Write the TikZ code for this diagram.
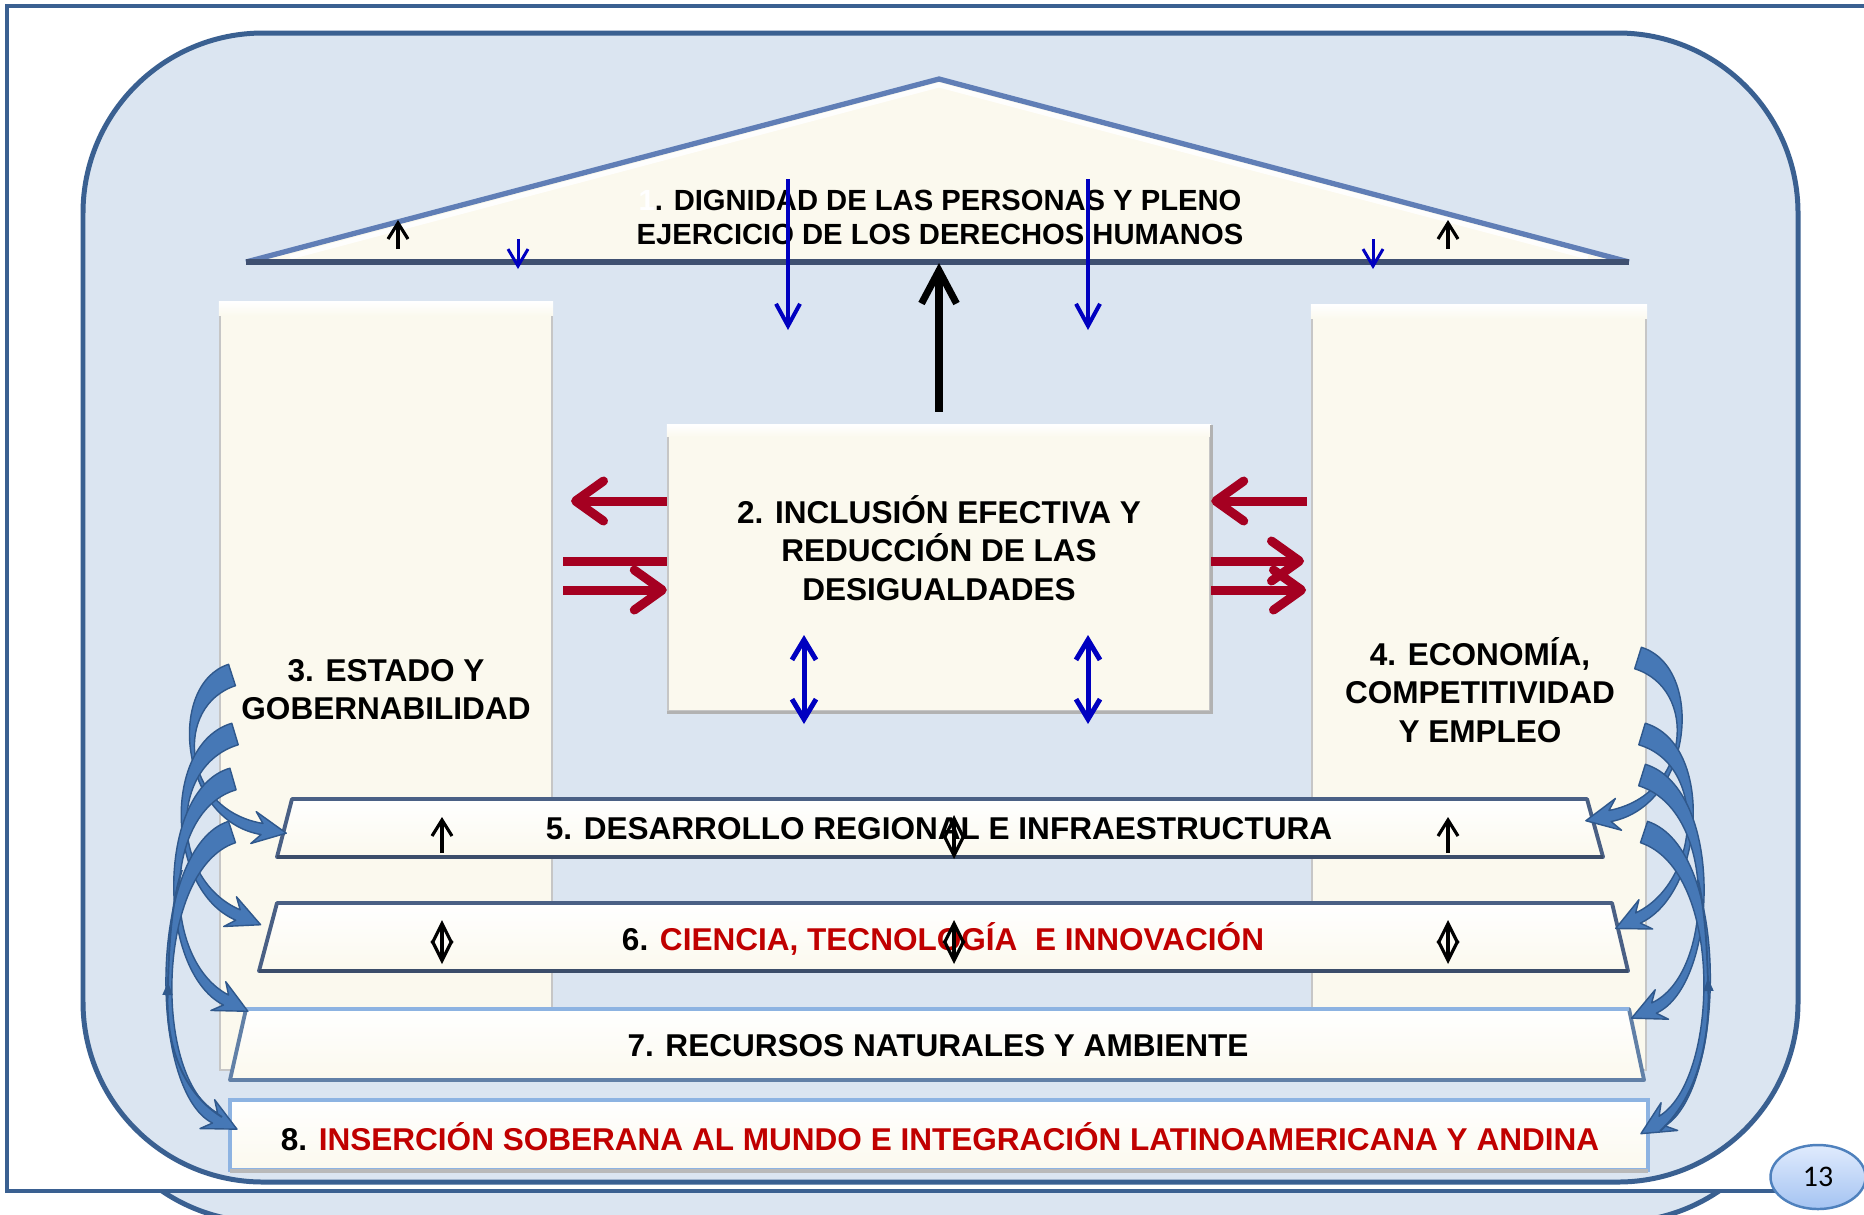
\documentclass[tikz,border=0pt]{standalone}
\usepackage{fontspec}
\setmainfont{Liberation Sans}
\newfontfamily\pagefont{Carlito}
\usetikzlibrary{arrows.meta,calc,shapes.geometric}

\definecolor{bgblue}{RGB}{219,229,241}
\definecolor{frameblue}{RGB}{58,96,145}
\definecolor{cream}{RGB}{251,249,238}
\definecolor{arrowblue}{RGB}{0,0,192}
\definecolor{crimson}{RGB}{165,0,33}
\definecolor{txtred}{RGB}{192,0,0}
\definecolor{curveblue}{RGB}{70,120,182}
\definecolor{curvedark}{RGB}{47,88,140}
\definecolor{bandedge}{RGB}{74,96,133}
\definecolor{roofblue}{RGB}{96,126,182}
\definecolor{roofbase}{RGB}{63,80,113}
\definecolor{lightedge}{RGB}{141,179,226}
\definecolor{ovaledge}{RGB}{79,129,189}
\definecolor{ovaltop}{RGB}{224,235,253}
\definecolor{ovalbot}{RGB}{164,195,242}

\newcommand\cvTail{3.2}
\newcommand\cvNeck{1.6}
\newcommand\cvHeadL{7}
\newcommand\cvHeadW{4.6}
\newcommand\bentarrow[4]{%
  \filldraw[fill=curveblue, draw=curvedark, line width=0.4pt, line join=round]
  let \p0=(#1), \p1=(#2), \p2=(#3), \p3=(#4),
      \n0={veclen(\x1-\x0,\y1-\y0)}, \n1={veclen(\x3-\x2,\y3-\y2)},
      \p4=({-(\y1-\y0)/\n0*\cvTail},{(\x1-\x0)/\n0*\cvTail}),
      \p5=({-(\y3-\y2)/\n1*\cvNeck},{(\x3-\x2)/\n1*\cvNeck}),
      \p6=({(\x3-\x2)/\n1*\cvHeadL},{(\y3-\y2)/\n1*\cvHeadL}),
      \p7=({-(\y3-\y2)/\n1*\cvHeadW},{(\x3-\x2)/\n1*\cvHeadW})
  in (\x0+\x4,\y0+\y4) .. controls (\x1+\x4,\y1+\y4) and (\x2+\x5,\y2+\y5) .. (\x3+\x5,\y3+\y5)
     -- (\x3+\x7-0.35*\x6,\y3+\y7-0.35*\y6) -- (\x3+\x6,\y3+\y6)
     -- (\x3-\x7-0.35*\x6,\y3-\y7-0.35*\y6) -- (\x3-\x5,\y3-\y5)
     .. controls (\x2-\x5,\y2-\y5) and (\x1-\x4,\y1-\y4) .. (\x0-\x4,\y0-\y4) -- cycle;}

\begin{document}
\begin{tikzpicture}[x=0.01cm, y=-0.01cm,
  txt/.style={font=\fontsize{8.97pt}{10.85pt}\selectfont\bfseries, align=center, inner sep=0pt},
  rooftxt/.style={font=\fontsize{8.3pt}{9.67pt}\selectfont\bfseries, align=center, inner sep=0pt},
  pillar/.style={rectangle, fill=cream, draw=gray!45, line width=0.6pt, inner sep=0pt},
  bevel/.style={top color=white, bottom color=cream},
  band/.style={top color=white, bottom color=cream, draw=bandedge, line width=1.1pt, line join=round},
  redarr/.style={crimson, line width=2.56pt, -{Straight Barb[length=0.28cm, width=0.4cm, round]}},
  redline/.style={crimson, line width=2.56pt},
  bluearr/.style={arrowblue, line width=1.14pt, -{Straight Barb[length=0.22cm, width=0.24cm]}},
  bluesmall/.style={arrowblue, line width=0.85pt, -{Straight Barb[length=0.17cm, width=0.2cm]}},
  blacksmall/.style={black, line width=0.9pt, -{Straight Barb[length=0.16cm, width=0.2cm]}},
  blackdbl/.style={black, line width=0.9pt, {Straight Barb[length=0.2cm, width=0.2cm]}-{Straight Barb[length=0.2cm, width=0.2cm]}},
  bluedbl/.style={arrowblue, line width=1.42pt, {Straight Barb[length=0.2cm, width=0.24cm]}-{Straight Barb[length=0.2cm, width=0.24cm]}},
  bigblack/.style={black, line width=2pt, -{Straight Barb[length=0.33cm, width=0.35cm]}},
  thin/.style={curvedark, line width=0.55pt}
]
\useasboundingbox (0,0) rectangle (1864,1214);
\fill[white] (0,0) rectangle (1864,1214);

% shape peeking below the frame
\begin{scope}
  \clip (0,1193) rectangle (1864,1214);
  \draw[fill=bgblue, draw=frameblue, line width=1.42pt, rounded corners=1.8cm] (83,71) rectangle (1798,1222);
\end{scope}

% outer frame
\draw[frameblue, line width=1.14pt] (1864,6) -- (7,6) -- (7,1191) -- (1800,1191);

% main rounded panel
\draw[fill=bgblue, draw=frameblue, line width=1.42pt, rounded corners=1.8cm] (83,33) rectangle (1798,1182);

% roof
\coordinate (apex) at (939,79);
\coordinate (rl) at (246,262);
\coordinate (rr) at (1629,262);
\fill[cream] (apex) -- (rr) -- (rl) -- cycle;
\draw[white, line width=1.4pt, line join=round, opacity=0.9] (290,257) -- (939,85) -- (1588,257);
\draw[roofblue, line width=1.5pt, line join=round] (rl) -- (apex) -- (rr);
\draw[roofbase, line width=1.7pt] (rl) -- (rr);
\node[rooftxt] (t1) at (940,217) {{\color{white}1}. DIGNIDAD DE LAS PERSONAS Y PLENO\\EJERCICIO DE LOS DERECHOS HUMANOS};

% pillars
\node[pillar, minimum width=3.32cm, minimum height=7.67cm] (p3) at (386,686.5) {};
\shade[bevel] (p3.north west) rectangle ($(p3.north east)+(0,14)$);
\node[pillar, minimum width=3.34cm, minimum height=7.64cm] (p4) at (1479,688) {};
\shade[bevel] (p4.north west) rectangle ($(p4.north east)+(0,14)$);
\node[txt] (t3) at (386,690) {3. ESTADO Y\\GOBERNABILIDAD};
\node[txt] (t4) at (1480,690) {4. ECONOMÍA,\\COMPETITIVIDAD\\Y EMPLEO};

% central box
\node[pillar, minimum width=5.42cm, minimum height=2.85cm] (c2) at (939,568.5) {};
\shade[bevel] (c2.north west) rectangle ($(c2.north east)+(0,12)$);
\draw[gray!60, line width=0.8pt] (c2.north east) -- (c2.south east) -- (c2.south west);
\node[txt] (t2) at (939,548) {2. INCLUSIÓN EFECTIVA Y\\REDUCCIÓN DE LAS\\DESIGUALDADES};

% bands
\draw[band] (292,799) -- (1587,799) -- (1603,857) -- (277,857) -- cycle;
\draw[bandedge!80!black, line width=1.3pt] (277,857) -- (1603,857);
\node[txt] (b5) at (939,829) {5. DESARROLLO REGIONAL E INFRAESTRUCTURA};

\draw[band] (277,903) -- (1612,903) -- (1628,971) -- (259,971) -- cycle;
\draw[bandedge!80!black, line width=1.3pt] (259,971) -- (1628,971);
\node[txt] (b6) at (943,939) {6. {\color{txtred}CIENCIA, TECNOLOGÍA\ \ E INNOVACIÓN}};

\draw[band, draw=frameblue!80] (246,1009) -- (1629,1009) -- (1644,1080) -- (230,1080) -- cycle;
\draw[lightedge, line width=1.1pt] (246,1009) -- (1629,1009);
\node[txt] (b7) at (938,1046) {7. RECURSOS NATURALES Y AMBIENTE};

\draw[top color=white, bottom color=cream, draw=lightedge, line width=0.9pt] (230,1100) rectangle (1648,1170);
\draw[gray!55, line width=1pt] (230,1171) -- (1648,1171);
\node[txt] (b8) at (940,1137) {8. {\color{txtred}INSERCIÓN SOBERANA AL MUNDO E INTEGRACIÓN LATINOAMERICANA Y ANDINA}};

% arrows in the roof
\draw[bigblack] ([yshift=0.13cm]c2.north) -- (939,263);
\draw[bluearr] (788,179) -- (788,330);
\draw[bluearr] (1088,179) -- (1088,330);
\draw[bluesmall] (518,239) -- (518,269);
\draw[bluesmall] (1373,239) -- (1373,269);
\draw[blacksmall] (398,249) -- (398,220);
\draw[blacksmall] (1448,249) -- (1448,220);

% red arrows
\draw[redarr] (c2.west |- 0,501) -- (571,501);
\draw[redline] (563,561) -- (c2.west |- 0,561);
\draw[redarr] (563,590) -- (c2.west |- 0,590);
\draw[redarr] (1307,501) -- (c2.east |- 0,501);
\draw[redarr] (c2.east |- 0,561) -- (1304,561);
\draw[redarr] (c2.east |- 0,590) -- (1306,590);

% blue double arrows in central box
\draw[bluedbl] (804,635) -- (804,724);
\draw[bluedbl] (1088,635) -- (1088,724);

% black arrows in bands
\draw[blacksmall] (442,853) -- (442,817);
\draw[blacksmall] (1448,853) -- (1448,817);
\draw[blackdbl] (954,815) -- (954,859);
\draw[blackdbl] (442,920) -- (442,964);
\draw[blackdbl] (954,920) -- (954,964);
\draw[blackdbl] (1448,920) -- (1448,964);

% curved block arrows, left
\bentarrow{232,675}{170,695}{180,815}{262,829}
\bentarrow{235,734}{165,755}{168,885}{238,915}
\bentarrow{233,779}{160,800}{158,965}{226,1000}
\bentarrow{232,832}{152,858}{150,1085}{215,1118}
\draw[thin, -{Triangle[length=0.13cm, width=0.1cm]}] (222,1117) .. controls (182,1092) and (166,1045) .. (168,982);
\draw[thin] (168,985) .. controls (169,940) and (172,900) .. (182,870);

% curved block arrows, right
\bentarrow{1638,658}{1702,678}{1692,800}{1610,816}
\bentarrow{1642,734}{1712,755}{1702,888}{1638,918}
\bentarrow{1642,775}{1722,800}{1716,980}{1654,1008}
\bentarrow{1644,832}{1728,860}{1722,1085}{1662,1121}
\draw[thin, -{Triangle[length=0.13cm, width=0.1cm]}] (1660,1131) .. controls (1695,1100) and (1710,1045) .. (1708,978);
\draw[thin] (1708,985) .. controls (1707,940) and (1704,905) .. (1698,880);

% page number
\node[ellipse, draw=ovaledge, line width=0.7pt, top color=ovaltop, bottom color=ovalbot,
      minimum width=0.95cm, minimum height=0.64cm, inner sep=0pt,
      font=\pagefont\fontsize{8.5pt}{10pt}\selectfont] (pg) at (1818,1177) {13};
\end{tikzpicture}
\end{document}
